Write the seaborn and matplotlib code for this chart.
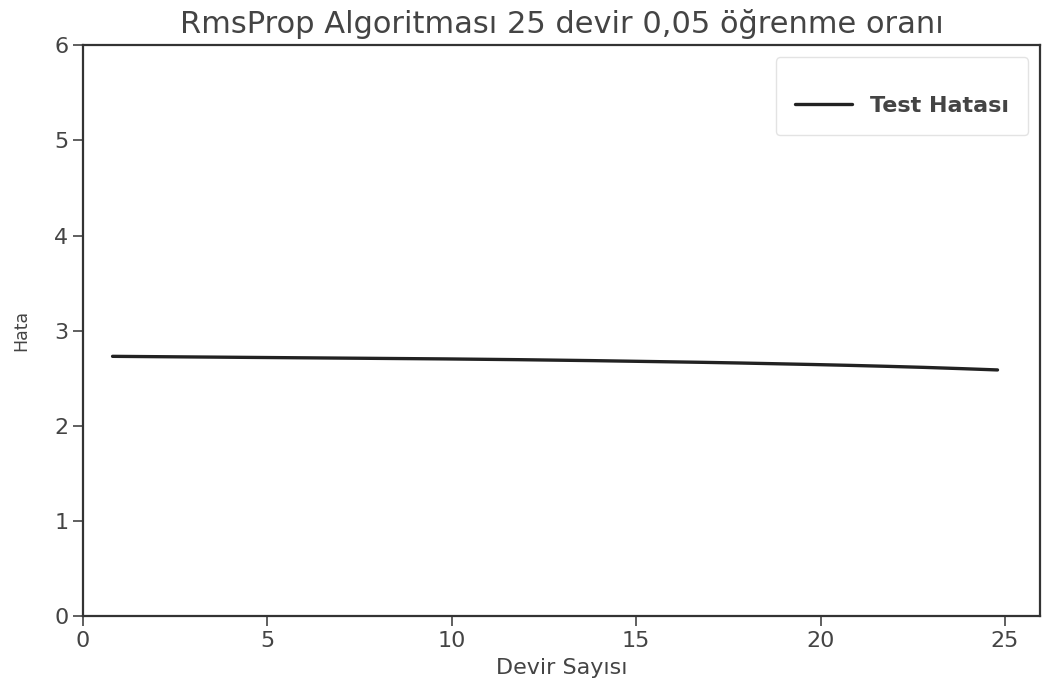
import matplotlib
matplotlib.use("Agg")
import matplotlib.pyplot as plt
import seaborn as sns
import pandas as pd

epochs = [0.8, 1.8, 2.8, 3.8, 4.8, 5.8, 6.8, 7.8, 8.8, 9.8, 10.8, 11.8, 12.8,
          13.8, 14.8, 15.8, 16.8, 17.8, 18.8, 19.8, 20.8, 21.8, 22.8, 23.8, 24.8]
test_error = [2.730, 2.727, 2.724, 2.721, 2.718, 2.715, 2.712, 2.709, 2.706,
              2.703, 2.699, 2.695, 2.690, 2.685, 2.679, 2.673, 2.667, 2.660,
              2.652, 2.644, 2.635, 2.625, 2.614, 2.601, 2.587]
x_ticks = [0, 5, 10, 15, 20, 25]
y_ticks = [0, 1, 2, 3, 4, 5, 6]

title = "RmsProp Algoritması 25 devir 0,05 öğrenme oranı"
xlabel = "Devir Sayısı"
ylabel = "Hata"
series_name = "Test Hatası"

sns.set_style("ticks")
plt.rcParams['font.family'] = ['DejaVu Sans']
text_color = "#444444"

df = pd.DataFrame({"epoch": epochs, "err": test_error, "series": series_name})

fig = plt.figure(figsize=(10.42, 6.86), dpi=100)
ax = fig.add_axes([0.0797, 0.102, 0.9183, 0.832])
sns.lineplot(data=df, x="epoch", y="err", hue="series", palette=["#222222"],
             linewidth=2.4, ax=ax)

ax.set_xlim(0, 25.95)
ax.set_ylim(0, 6)
ax.set_xticks(x_ticks)
ax.set_yticks(y_ticks)
ax.tick_params(axis="both", labelsize=16, colors="#444444", length=7, width=1.2,
               direction="out", labelcolor=text_color)
for s in ax.spines.values():
    s.set_visible(True)
    s.set_color("#333333")
    s.set_linewidth(1.6)

ax.set_title(title, fontsize=22, color=text_color, pad=9)
ax.set_xlabel(xlabel, fontsize=16, color=text_color, labelpad=5)
ax.set_ylabel(ylabel, fontsize=12.5, color=text_color, labelpad=17)

leg = ax.legend(title=" ", title_fontsize=6, loc="upper right", fontsize=16,
                frameon=True, handlelength=2.6, handletextpad=0.8,
                borderpad=0.85, borderaxespad=0,
                bbox_to_anchor=(0.9875, 0.979))
leg.get_frame().set_edgecolor("#dddddd")
for t in leg.get_texts():
    t.set_color(text_color)
    t.set_fontweight("bold")

fig.savefig("out.png", dpi=100)
